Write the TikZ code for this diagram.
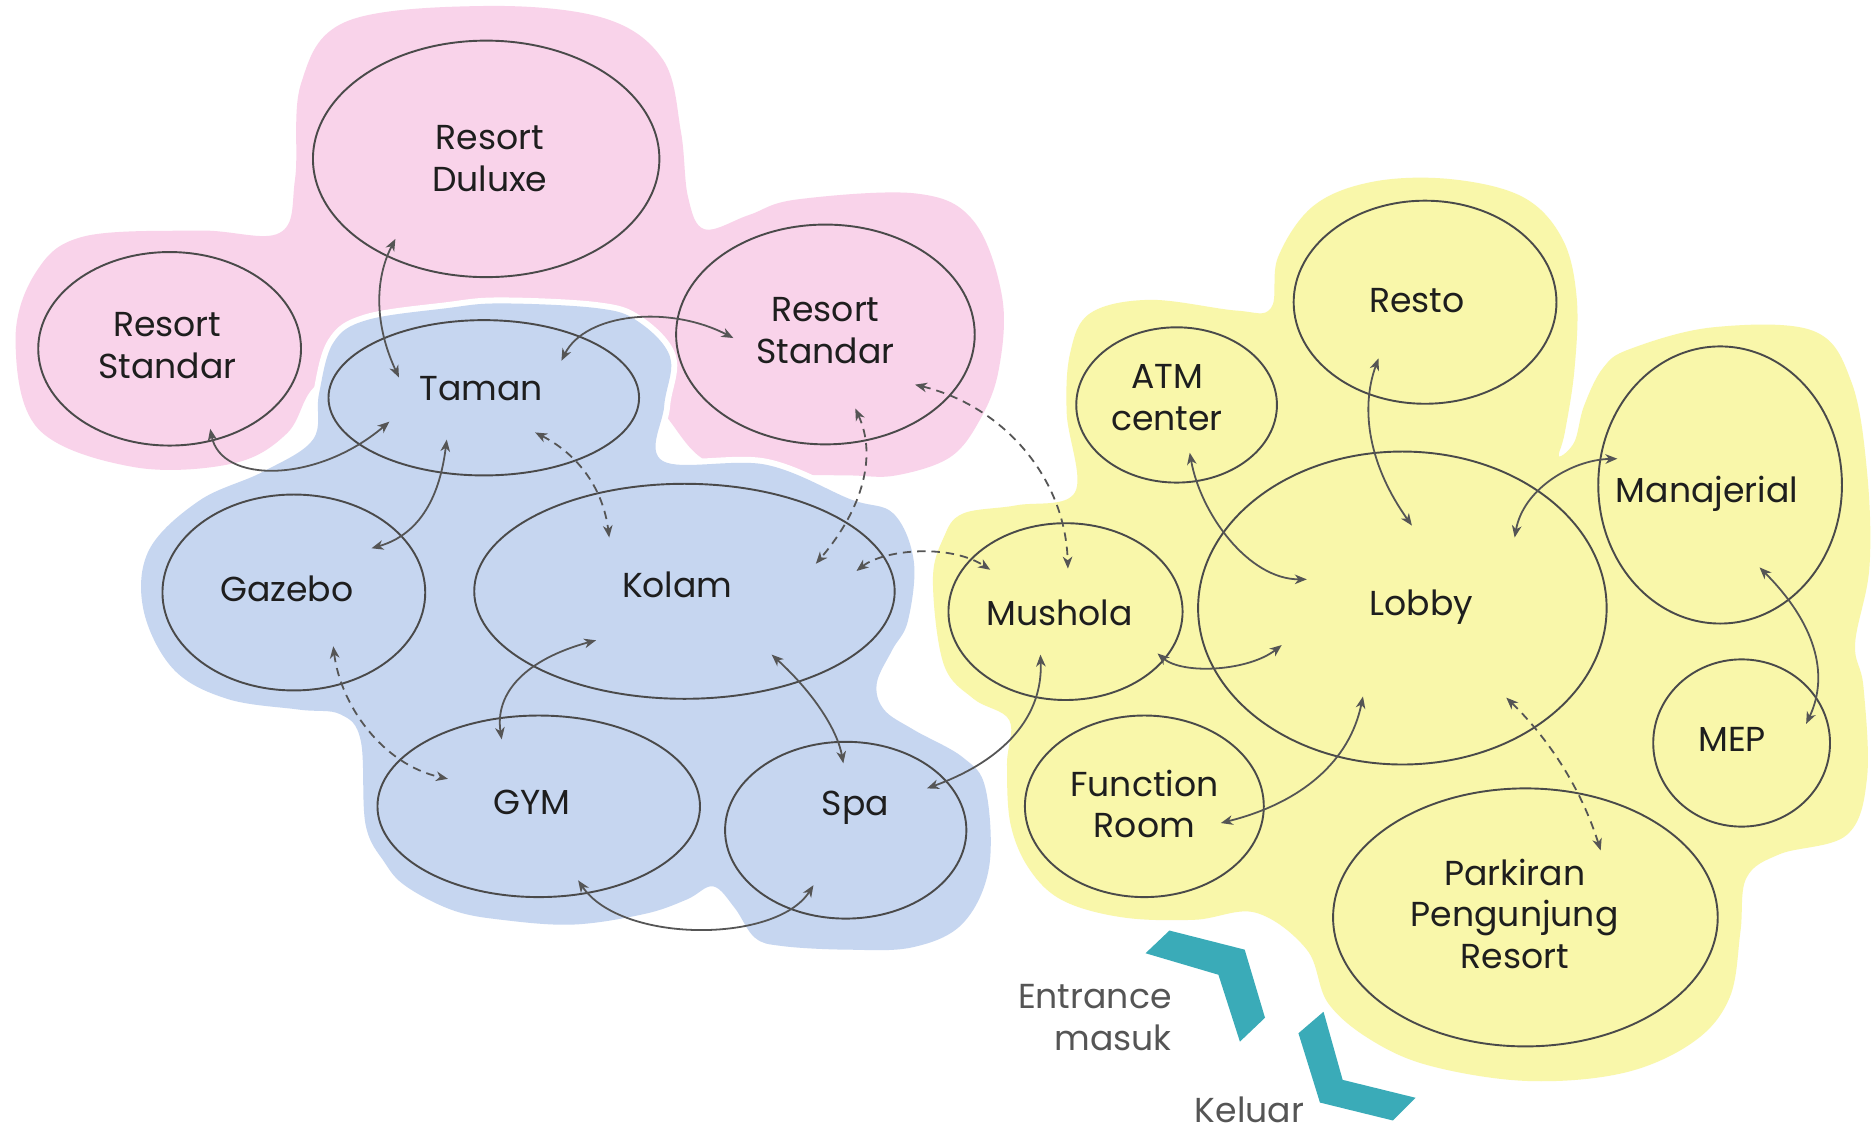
\documentclass[tikz,border=0pt]{standalone}
\usepackage{fontspec}
\setmainfont{Poppins}
\usetikzlibrary{shapes.geometric,arrows.meta,calc}
\definecolor{pinkb}{HTML}{F9D3EA}
\definecolor{blueb}{HTML}{C6D6F0}
\definecolor{yellowb}{HTML}{F9F7AA}
\definecolor{tealc}{HTML}{3AABB8}
\definecolor{linec}{HTML}{4A4A4A}
\definecolor{arrc}{HTML}{555555}
\definecolor{txtc}{HTML}{1E1E1E}
\definecolor{greytxt}{HTML}{555555}
\begin{document}
\begin{tikzpicture}[x=1pt,y=-1pt,
  room/.style={ellipse, draw=linec, line width=1.6pt, inner sep=0pt},
  lbl/.style={font=\fontsize{29}{35}\selectfont, text=txtc, align=center, inner sep=0pt},
  conn/.style={draw=arrc, line width=1.5pt, {Stealth[length=10pt,width=8pt,inset=3pt]}-{Stealth[length=10pt,width=8pt,inset=3pt]}},
  dconn/.style={conn, dash pattern=on 7pt off 5pt},
  gap/.style={draw=white, line width=10pt, line join=round},
]
\useasboundingbox (0,0) rectangle (1568,951);
\fill[white] (0,0) rectangle (1568,951);

% ---------- zones ----------
\fill[pinkb] plot[smooth cycle, tension=0.6] coordinates {
 (13,285) (30,228) (70,198) (167,193) (234,195) (247,150) (252,70) (290,18) (406,5)
 (505,15) (555,50) (570,110) (576,165) (590,192) (627,180) (667,167) (767,162)
 (815,185) (839,249) (836,310) (820,352) (795,383) (750,398) (712,398) (650,396)
 (590,385) (550,340) (500,300) (400,300) (300,300) (262,325) (240,363) (195,388)
 (112,391) (32,359)};

\path[gap] plot[smooth cycle, tension=0.6] coordinates {
 (279,287) (307,268) (374,258) (419,254) (500,258) (534,269) (561,299) (556,340)
 (555,386) (641,389) (712,418) (748,430) (765,470) (760,520) (747,544) (734,572)
 (740,594) (765,611) (806,634) (825,660) (828,726) (806,773) (764,793) (709,795)
 (655,792) (632,785) (615,760) (597,742) (575,753) (540,765) (480,774) (420,770)
 (379,762) (340,742) (322,722) (306,690) (302,620) (285,598) (250,594) (190,585)
 (145,560) (120,510) (125,460) (167,419) (220,395) (262,368) (267,330)};
\fill[blueb] plot[smooth cycle, tension=0.6] coordinates {
 (279,287) (307,268) (374,258) (419,254) (500,258) (534,269) (561,299) (556,340)
 (555,386) (641,389) (712,418) (748,430) (765,470) (760,520) (747,544) (734,572)
 (740,594) (765,611) (806,634) (825,660) (828,726) (806,773) (764,793) (709,795)
 (655,792) (632,785) (615,760) (597,742) (575,753) (540,765) (480,774) (420,770)
 (379,762) (340,742) (322,722) (306,690) (302,620) (285,598) (250,594) (190,585)
 (145,560) (120,510) (125,460) (167,419) (220,395) (262,368) (267,330)};

\fill[yellowb] plot[smooth cycle, tension=0.6] coordinates {
 (781,486) (790,450) (806,430) (851,423) (900,412) (893,346) (896,295) (913,262)
 (963,251) (1035,260) (1064,258) (1070,215) (1100,172) (1150,152) (1215,150)
 (1275,165) (1308,200) (1320,250) (1318,310) (1310,362) (1305,382) (1318,370)
 (1326,340) (1342,308) (1365,292) (1434,274) (1518,277) (1550,320) (1563,395)
 (1565,475) (1553,539) (1560,575) (1563,651) (1546,699) (1490,715) (1462,735)
 (1457,780) (1448,835) (1418,872) (1360,898) (1280,905) (1200,893) (1150,872)
 (1112,840) (1094,795) (1051,764) (1000,770) (940,768) (890,754) (862,728)
 (846,690) (843,640) (845,603) (815,585) (790,556)};

% ---------- entrance / exit markers ----------
\fill[tealc] (959,798) -- (979,779) -- (1042,795) -- (1059,852) -- (1038,872) -- (1020,816) -- cycle;
\fill[tealc] (1087,865) -- (1108,847) -- (1124,904) -- (1185,919) -- (1166,938) -- (1105,923) -- cycle;

% ---------- rooms ----------
\node[room, minimum width=290pt, minimum height=198pt] (duluxe)  at (407,133) {};
\node[room, minimum width=220pt, minimum height=162pt] (stdl)    at (142,292) {};
\node[room, minimum width=250pt, minimum height=184pt] (stdr)    at (691,280) {};
\node[room, minimum width=260pt, minimum height=130pt] (taman)   at (405,333) {};
\node[room, minimum width=220pt, minimum height=164pt] (gazebo)  at (246,496) {};
\node[room, minimum width=352pt, minimum height=180pt] (kolam)   at (573,495) {};
\node[room, minimum width=270pt, minimum height=152pt] (gym)     at (451,675) {};
\node[room, minimum width=202pt, minimum height=148pt] (spa)     at (708,695) {};
\node[room, minimum width=220pt, minimum height=170pt] (resto)   at (1193,253) {};
\node[room, minimum width=168pt, minimum height=130pt] (atm)     at (985,339) {};
\node[room, minimum width=204pt, minimum height=232pt] (manaj)   at (1440,406) {};
\node[room, minimum width=342pt, minimum height=262pt] (lobby)   at (1174,509) {};
\node[room, minimum width=196pt, minimum height=148pt] (mushola) at (892,512) {};
\node[room, minimum width=148pt, minimum height=140pt] (mep)     at (1458,622) {};
\node[room, minimum width=200pt, minimum height=152pt] (func)    at (958,675) {};
\node[room, minimum width=322pt, minimum height=216pt] (parkir)  at (1277,768) {};

% ---------- labels ----------
\node[lbl] (duluxe-t)  at (410,133) {Resort\\Duluxe};
\node[lbl] (stdl-t)    at (140,289) {Resort\\Standar};
\node[lbl] (stdr-t)    at (691,277) {Resort\\Standar};
\node[lbl] (taman-t)   at (403,325) {Taman};
\node[lbl] (gazebo-t)  at (240,493) {Gazebo};
\node[lbl] (kolam-t)   at (567,490) {Kolam};
\node[lbl] (gym-t)     at (445,672) {GYM};
\node[lbl] (spa-t)     at (716,676) {Spa};
\node[lbl] (resto-t)   at (1186,252) {Resto};
\node[lbl] (atm-t)     at (977,333) {ATM\\center};
\node[lbl] (manaj-t)   at (1429,413) {Manajerial};
\node[lbl] (lobby-t)   at (1190,508) {Lobby};
\node[lbl] (mushola-t) at (887,513) {Mushola};
\node[lbl] (mep-t)     at (1450,619) {MEP};
\node[lbl] (func-t)    at (958,673) {Function\\Room};
\node[lbl] (parkir-t)  at (1268,765) {Parkiran\\Pengunjung\\Resort};
\node[lbl, text=greytxt, align=right, anchor=east] (entr) at (981,852) {Entrance\\masuk};
\node[lbl, text=greytxt] (kel) at (1046,929) {Keluar};

% ---------- connectors ----------
\draw[conn]  ($(duluxe.center)+(-76,67)$) .. controls (313,235) and (314,273) .. ($(taman.center)+(-71,-17)$);
\draw[conn]  ($(stdl.center)+(34,67)$) .. controls (185,405) and (265,405) .. ($(taman.center)+(-79,20)$);
\draw[conn]  ($(taman.center)+(65,-31)$) .. controls (490,262) and (560,255) .. ($(stdr.center)+(-77,3)$);
\draw[conn]  ($(taman.center)+(-31,35)$) .. controls (370,400) and (360,445) .. ($(gazebo.center)+(65,-37)$);
\draw[dconn] ($(taman.center)+(43,29)$) .. controls (485,381) and (505,410) .. ($(kolam.center)+(-63,-45)$);
\draw[dconn] ($(stdr.center)+(25,62)$) .. controls (734,381) and (723,425) .. ($(kolam.center)+(110,-23)$);
\draw[dconn] ($(stdr.center)+(75,42)$) .. controls (840,340) and (892,400) .. ($(mushola.center)+(2,-36)$);
\draw[dconn] ($(kolam.center)+(144,-17)$) .. controls (740,460) and (795,455) .. ($(mushola.center)+(-63,-35)$);
\draw[conn]  ($(kolam.center)+(-74,41)$) .. controls (440,552) and (414,580) .. ($(gym.center)+(-31,-56)$);
\draw[conn]  ($(kolam.center)+(73,53)$) .. controls (681,580) and (701,611) .. ($(spa.center)+(-2,-56)$);
\draw[dconn] ($(gazebo.center)+(33,45)$) .. controls (285,590) and (320,640) .. ($(gym.center)+(-76,-23)$);
\draw[conn]  ($(gym.center)+(33,62)$) .. controls (520,790) and (650,790) .. ($(spa.center)+(-27,46)$);
\draw[conn]  ($(mushola.center)+(-21,36)$) .. controls (873,599) and (842,636) .. ($(spa.center)+(68,-35)$);
\draw[conn]  ($(mushola.center)+(77,35)$) .. controls (990,565) and (1045,562) .. ($(lobby.center)+(-101,31)$);
\draw[conn]  ($(atm.center)+(11,40)$) .. controls (1005,430) and (1045,485) .. ($(lobby.center)+(-80,-24)$);
\draw[conn]  ($(resto.center)+(-39,47)$) .. controls (1138,344) and (1147,391) .. ($(lobby.center)+(8,-69)$);
\draw[conn]  ($(lobby.center)+(94,-59)$) .. controls (1275,410) and (1315,385) .. ($(manaj.center)+(-86,-22)$);
\draw[conn]  ($(manaj.center)+(33,69)$) .. controls (1519,521) and (1532,564) .. ($(mep.center)+(54,-16)$);
\draw[conn]  ($(lobby.center)+(-33,74)$) .. controls (1130,637) and (1090,672) .. ($(func.center)+(64,14)$);
\draw[dconn] ($(lobby.center)+(87,75)$) .. controls (1297,619) and (1324,661) .. ($(parkir.center)+(63,-56)$);
\end{tikzpicture}
\end{document}
